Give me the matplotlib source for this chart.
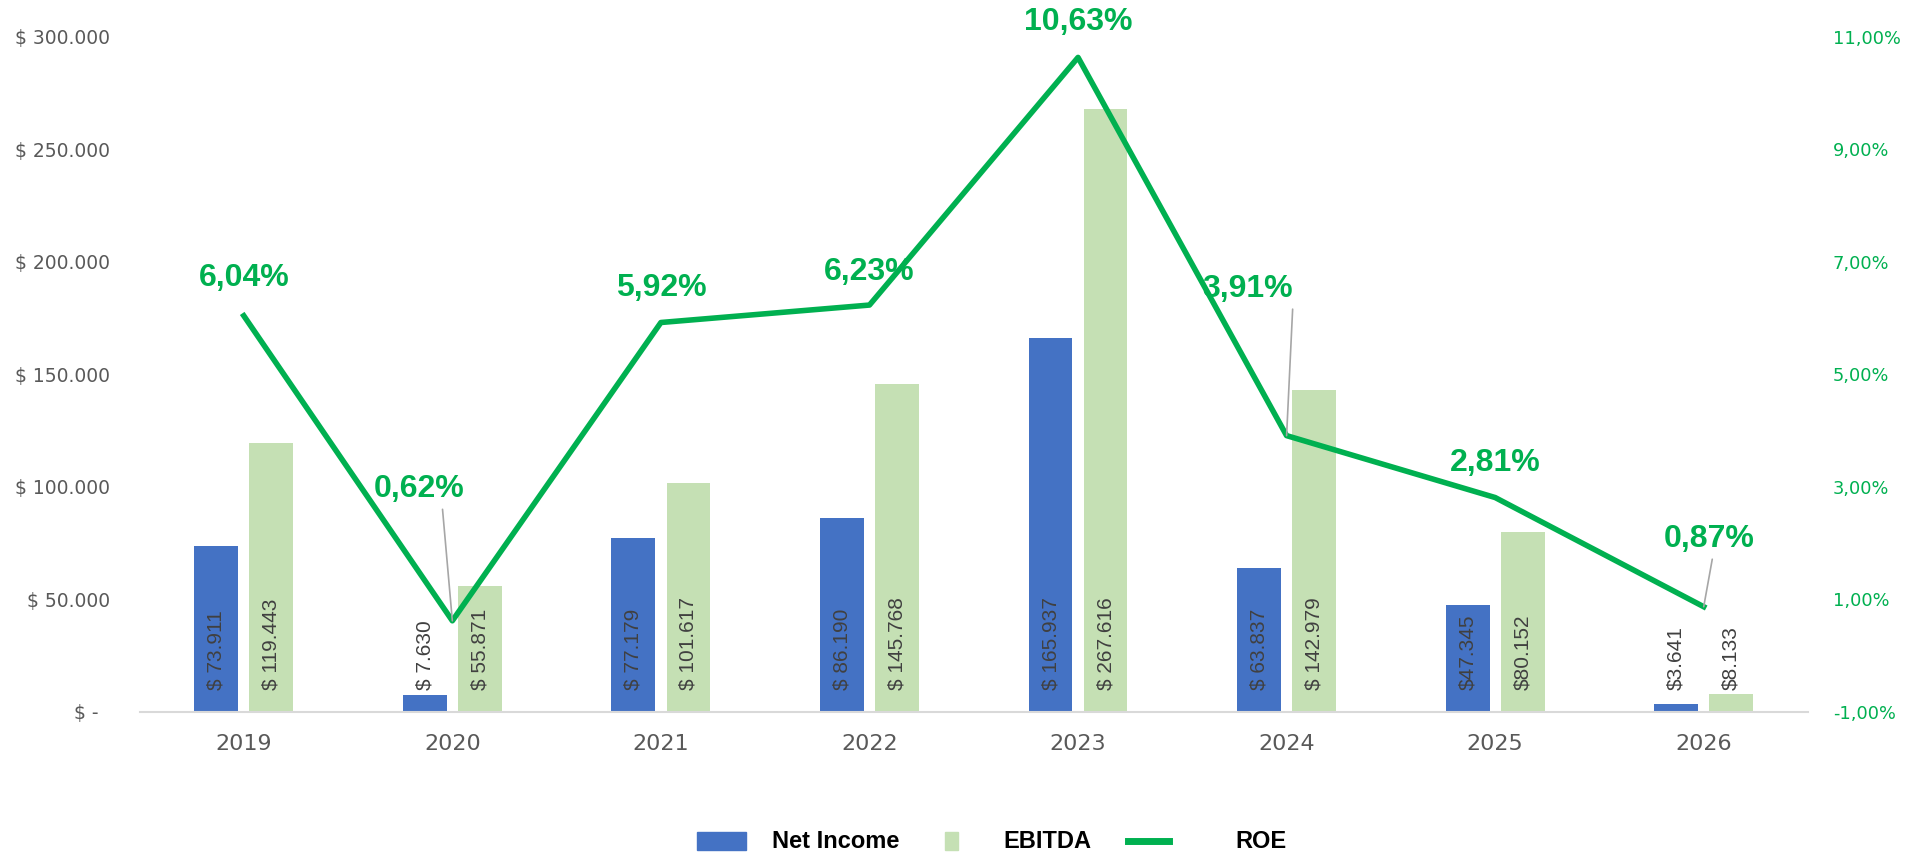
import numpy as np
import matplotlib
matplotlib.use("Agg")
import matplotlib.pyplot as plt
from matplotlib.patches import Rectangle
from matplotlib.lines import Line2D

years = ["2019", "2020", "2021", "2022", "2023", "2024", "2025", "2026"]
net_income = [73911, 7630, 77179, 86190, 165937, 63837, 47345, 3641]
ebitda = [119443, 55871, 101617, 145768, 267616, 142979, 80152, 8133]
roe = [6.04, 0.62, 5.92, 6.23, 10.63, 3.91, 2.81, 0.87]
# the last two years are printed without the space after "$"
label_sep = [" ", " ", " ", " ", " ", " ", "", ""]
# offset (px) of each ROE label from its point, and whether it gets a leader line
roe_offsets = [(0, 38), (-33, 132), (0, 34), (0, 33), (0, 35), (-39, 147), (0, 35), (5, 68)]
roe_leader = [False, True, False, False, False, True, False, True]
roe_relpos = [(0.5, 0), (0.75, 0), (0.5, 0), (0.5, 0), (0.5, 0), (1.0, 0), (0.5, 0), (0.55, 0)]

BLUE = "#4472C4"
LIGHT_GREEN = "#C5E0B4"
GREEN = "#00B050"
GREY_TXT = "#595959"


def money(v, sep=" "):
    return "$" + sep + f"{v:,}".replace(",", ".")


fig = plt.figure(figsize=(19.11, 8.55), dpi=100)
ax = fig.add_axes([0.0730, 0.1673, 0.8731, 0.7899])

x = np.arange(len(years))
w = 0.21
off = 0.132
ax.bar(x - off, net_income, w, color=BLUE, zorder=2)
ax.bar(x + off, ebitda, w, color=LIGHT_GREEN, zorder=2)

for i in range(len(years)):
    for xi, val in ((x[i] - off, net_income[i]), (x[i] + off, ebitda[i])):
        ax.annotate(money(val, label_sep[i]), (xi, 0), xytext=(0, 22),
                    textcoords="offset pixels", rotation=90, ha="center", va="bottom",
                    fontsize=15, color="#404040", family="Liberation Sans", zorder=3)

ax.set_xlim(-0.5, len(years) - 0.5)
ax.set_ylim(0, 300000)
ax.set_yticks(np.arange(0, 300001, 50000))
ax.set_yticklabels(["$ -  "] + [money(v) for v in range(50000, 300001, 50000)])
ax.set_xticks(x)
ax.set_xticklabels(years)
ax.tick_params(axis="y", length=0, pad=21, labelsize=13.5, labelcolor=GREY_TXT)
ax.tick_params(axis="x", length=0, pad=16, labelsize=16, labelcolor=GREY_TXT)
for s in ["top", "left", "right"]:
    ax.spines[s].set_visible(False)
ax.spines["bottom"].set_color("#D9D9D9")
ax.spines["bottom"].set_linewidth(1.5)

ax2 = ax.twinx()
ax2.plot(x, roe, color=GREEN, lw=4, zorder=4)
ax2.set_ylim(-1, 11)
ax2.set_yticks(np.arange(-1, 11.1, 2))
ax2.set_yticklabels([f"{v:.2f}%".replace(".", ",") for v in np.arange(-1, 11.1, 2)])
ax2.tick_params(axis="y", length=0, pad=18, labelsize=12.8, labelcolor=GREEN)
for s in ["top", "left", "right", "bottom"]:
    ax2.spines[s].set_visible(False)

for i, v in enumerate(roe):
    arrow = None
    if roe_leader[i]:
        arrow = dict(arrowstyle="-", color="#A6A6A6", lw=1.2, shrinkA=2, shrinkB=0,
                     relpos=roe_relpos[i])
    ax2.annotate(f"{v:.2f}%".replace(".", ","), (x[i], v), xytext=roe_offsets[i],
                 textcoords="offset pixels", ha="center", va="center",
                 fontsize=23, fontweight="bold", color=GREEN, family="Liberation Sans",
                 arrowprops=arrow, zorder=5)

# legend drawn in figure pixels
W, H = 1911, 855
ly = 855 - 841
fig.add_artist(Rectangle((697 / W, (ly - 9) / H), 49 / W, 18 / H, color=BLUE,
                         transform=fig.transFigure))
fig.add_artist(Rectangle((945 / W, (ly - 9) / H), 13 / W, 18 / H, color=LIGHT_GREEN,
                         transform=fig.transFigure))
fig.add_artist(Line2D([1128 / W, 1169 / W], [ly / H, ly / H], color=GREEN, lw=5,
                      transform=fig.transFigure))
for tx, txt in ((772, "Net Income"), (1003, "EBITDA"), (1235, "ROE")):
    fig.text(tx / W, ly / H, txt, ha="left", va="center", fontsize=17,
             fontweight="bold", color="black", family="Liberation Sans")

fig.savefig("out.png", dpi=100)
